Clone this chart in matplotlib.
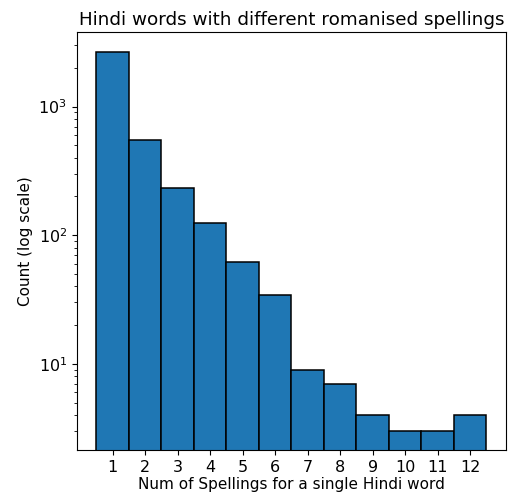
import matplotlib
matplotlib.use("Agg")
import matplotlib.pyplot as plt
import numpy as np

num_spellings = [1, 2, 3, 4, 5, 6, 7, 8, 9, 10, 11, 12]
counts = [2670, 554, 231, 124, 62, 34, 9, 7, 4, 3, 3, 4]

fig = plt.figure(figsize=(5.09, 4.97), dpi=100)
ax = fig.add_axes([0.151, 0.0946, 0.843, 0.841])
ax.bar(num_spellings, counts, width=1.0, color="#1f77b4", edgecolor="black", linewidth=1.1)
ax.set_yscale("log")
ax.set_xlim(-0.1, 13.1)
ax.set_ylim(2.14, 3800)
ax.set_xticks(num_spellings)
ax.tick_params(labelsize=11.5)
ax.set_title("Hindi words with different romanised spellings", fontsize=13.2, pad=5)
ax.set_xlabel("Num of Spellings for a single Hindi word", fontsize=11, labelpad=2)
ax.set_ylabel("Count (log scale)", fontsize=11)
fig.savefig("out.png", dpi=100)
